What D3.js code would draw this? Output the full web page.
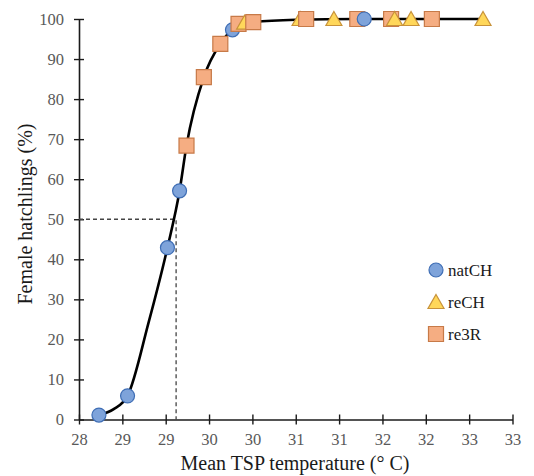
<!DOCTYPE html>
<html>
<head>
<meta charset="utf-8">
<script src="https://cdn.jsdelivr.net/npm/d3@7"></script>
<style>
  body { margin: 0; background: #fff; }
  svg text { font-family: "Liberation Serif", "Times New Roman", serif; }
</style>
</head>
<body>
<svg class="chart" width="534" height="476"></svg>
<script>
// natCH, reCH and re3R observations: [mean TSP temp, % female]
var natCH = [[28.23, 1.1], [28.56, 5.9], [29.02, 42.9], [29.16, 57.1], [29.77, 97.3], [31.29, 100]];
var reCH = [[29.91, 99.1], [30.55, 100], [30.94, 100], [31.64, 100], [31.83, 100], [32.66, 100]];
var re3R = [[29.24, 68.4], [29.44, 85.5], [29.63, 93.8], [29.84, 98.8], [30.01, 99.2], [30.62, 100], [31.21, 100], [31.60, 100], [32.07, 100]];
// fitted curve
var fitCurve = [[28.23, 1.1], [28.4, 2.6], [28.56, 5.9], [28.8, 24], [29.02, 42.9], [29.16, 57.1], [29.24, 68.4],
    [29.44, 85.5], [29.63, 93.8], [29.77, 97.3], [30.01, 99.2], [30.5, 99.8], [31.2, 100], [32.66, 100]];
var pivot = [29.12, 50];
var xTicks = [28, 28.5, 29, 29.5, 30, 30.5, 31, 31.5, 32, 32.5, 33];
var yTicks = [0, 10, 20, 30, 40, 50, 60, 70, 80, 90, 100];
var legendItems = ["natCH", "reCH", "re3R"];

var svg = d3.select("svg.chart");

var x = d3.scaleLinear().domain([28, 33]).range([79, 512.5]),
    y = d3.scaleLinear().domain([0, 100]).range([419.5, 19]);

var styles = {
    natCH: {fill: "#7ea3da", stroke: "#3f6eb5"},
    reCH: {fill: "#ffd75a", stroke: "#c8923a"},
    re3R: {fill: "#f5ad82", stroke: "#c77a48"}
};

// marker shapes centred on bounding box
function markerPath(type) {
    if (type === "natCH") return d3.symbol(d3.symbolCircle, Math.PI * 7 * 7)();
    if (type === "reCH") return "M0,-7.5L8,6.5L-8,6.5Z";
    return "M-7.5,-7.5H7.5V7.5H-7.5Z";
}

// axes
var xAxis = d3.axisBottom(x).tickValues(xTicks).tickSize(5).tickSizeOuter(0)
    .tickFormat(function(d) { return Math.round(d + 1e-9); });
var yAxis = d3.axisLeft(y).tickValues(yTicks).tickSize(5).tickSizeOuter(0);

var gx = svg.append("g")
    .attr("class", "axis axis--x")
    .attr("transform", "translate(0," + y(0) + ")")
    .call(xAxis);
var gy = svg.append("g")
    .attr("class", "axis axis--y")
    .attr("transform", "translate(" + x(28) + ",0)")
    .call(yAxis);

[gx, gy].forEach(function(g) {
    g.select(".domain").attr("stroke", "#1a1a1a").attr("stroke-width", 1.6);
    g.selectAll(".tick line").attr("stroke", "#1a1a1a").attr("stroke-width", 1.4);
    g.selectAll(".tick text").attr("fill", "#595959").style("font-size", "16.5px");
});
// ticks cross the axis line
gx.selectAll(".tick line").attr("y1", -5).attr("y2", 5);
gx.selectAll(".tick text").attr("y", 14);
gy.selectAll(".tick line").attr("x1", -5).attr("x2", 5);
gy.selectAll(".tick text").attr("x", -15);

// dashed guide at 50%
svg.append("path")
    .attr("fill", "none")
    .attr("stroke", "#444")
    .attr("stroke-width", 1.3)
    .attr("stroke-dasharray", "4,3")
    .attr("d", "M" + x(28) + "," + y(pivot[1]) + "H" + x(pivot[0]) + "V" + y(0));

// fitted curve
var line = d3.line()
    .x(function(d) { return x(d[0]); })
    .y(function(d) { return y(d[1]); })
    .curve(d3.curveMonotoneX);

svg.append("path")
    .datum(fitCurve)
    .attr("fill", "none")
    .attr("stroke", "#000")
    .attr("stroke-width", 2.6)
    .attr("d", line);

// points
var series = [["re3R", re3R], ["reCH", reCH], ["natCH", natCH]];
var allPts = [];
series.forEach(function(s) {
    s[1].forEach(function(p) { allPts.push({type: s[0], x: p[0], y: p[1]}); });
});
allPts.sort(function(a, b) { return a.x - b.x; });

svg.append("g").selectAll("path")
    .data(allPts)
    .enter().append("path")
        .attr("transform", function(d) { return "translate(" + x(d.x) + "," + y(d.y) + ")"; })
        .attr("d", function(d) { return markerPath(d.type); })
        .attr("fill", function(d) { return styles[d.type].fill; })
        .attr("stroke", function(d) { return styles[d.type].stroke; })
        .attr("stroke-width", 1.2);

// legend
var legend = svg.append("g").attr("class", "legend");
var legendY = [270, 302, 334];
legendItems.forEach(function(name, i) {
    legend.append("path")
        .attr("transform", "translate(436," + legendY[i] + ")")
        .attr("d", markerPath(name))
        .attr("fill", styles[name].fill)
        .attr("stroke", styles[name].stroke)
        .attr("stroke-width", 1.2);
    legend.append("text")
        .attr("x", 448)
        .attr("y", legendY[i] + 5.5)
        .attr("fill", "#1a1a1a")
        .style("font-size", "17px")
        .text(name);
});

// axis titles
svg.append("text")
    .attr("x", 295)
    .attr("y", 470)
    .attr("text-anchor", "middle")
    .attr("fill", "#1a1a1a")
    .style("font-size", "20px")
    .text("Mean TSP temperature (° C)");

svg.append("text")
    .attr("transform", "translate(32,214) rotate(-90)")
    .attr("text-anchor", "middle")
    .attr("fill", "#1a1a1a")
    .style("font-size", "20px")
    .text("Female hatchlings (%)");
</script>
</body>
</html>
